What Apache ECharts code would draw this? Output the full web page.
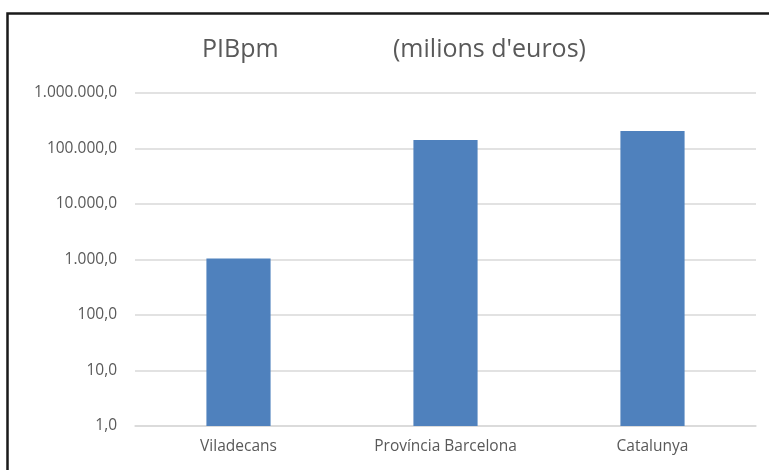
<!DOCTYPE html>
<html>
<head>
<meta charset="utf-8">
<script src="https://cdn.jsdelivr.net/npm/echarts@6/dist/echarts.min.js"></script>
<style>
  html, body { margin: 0; padding: 0; background: #fff; }
  #main { width: 769px; height: 470px; }
</style>
</head>
<body>
<div id="main"></div>
<script>
// dades del gràfic
var categories = ["Viladecans", "Província Barcelona", "Catalunya"];
var pibValues = [1040, 142000, 206000];
var yMin = 1;
var yMax = 1000000;

function fmtCat(v) {
  var s = Math.round(v).toString().replace(/\B(?=(\d{3})+(?!\d))/g, ".");
  return s + ",0";
}

var chartDom = document.getElementById("main");
var myChart = echarts.init(chartDom);
var option;

option = {
  animation: false,
  textStyle: { fontFamily: "Open Sans" },
  title: [
    {
      text: "PIBpm",
      left: 197,
      top: 32,
      textStyle: { fontSize: 25, fontWeight: "normal", color: "#595959", fontFamily: "Open Sans" },
    },
    {
      text: "(milions d'euros)",
      left: 388,
      top: 32,
      textStyle: { fontSize: 25, fontWeight: "normal", color: "#595959", fontFamily: "Open Sans" },
    },
  ],
  graphic: [
    {
      type: "rect",
      left: 5,
      top: 11,
      shape: { width: 800, height: 500 },
      style: { fill: "none", stroke: "#1a1a1a", lineWidth: 2.5 },
      silent: true,
    },
  ],
  grid: {
    left: 135,
    right: 13,
    top: 93,
    bottom: 44,
    containLabel: false,
  },
  xAxis: {
    type: "category",
    data: categories,
    axisLine: { show: true, lineStyle: { color: "#d9d9d9", width: 1.5 } },
    axisTick: { show: false },
    axisLabel: { color: "#595959", fontSize: 15.5, margin: 13 },
  },
  yAxis: {
    type: "log",
    logBase: 10,
    min: yMin,
    max: yMax,
    axisLine: { show: false },
    axisTick: { show: false },
    splitLine: { lineStyle: { color: "#d9d9d9", width: 1.5 } },
    axisLabel: {
      color: "#595959",
      fontSize: 15.5,
      margin: 18,
      formatter: fmtCat,
    },
  },
  series: [
    {
      name: "PIBpm",
      type: "bar",
      data: pibValues,
      barWidth: "31%",
      itemStyle: { color: "#4f81bd" },
    },
  ],
};
option && myChart.setOption(option);
</script>
</body>
</html>
